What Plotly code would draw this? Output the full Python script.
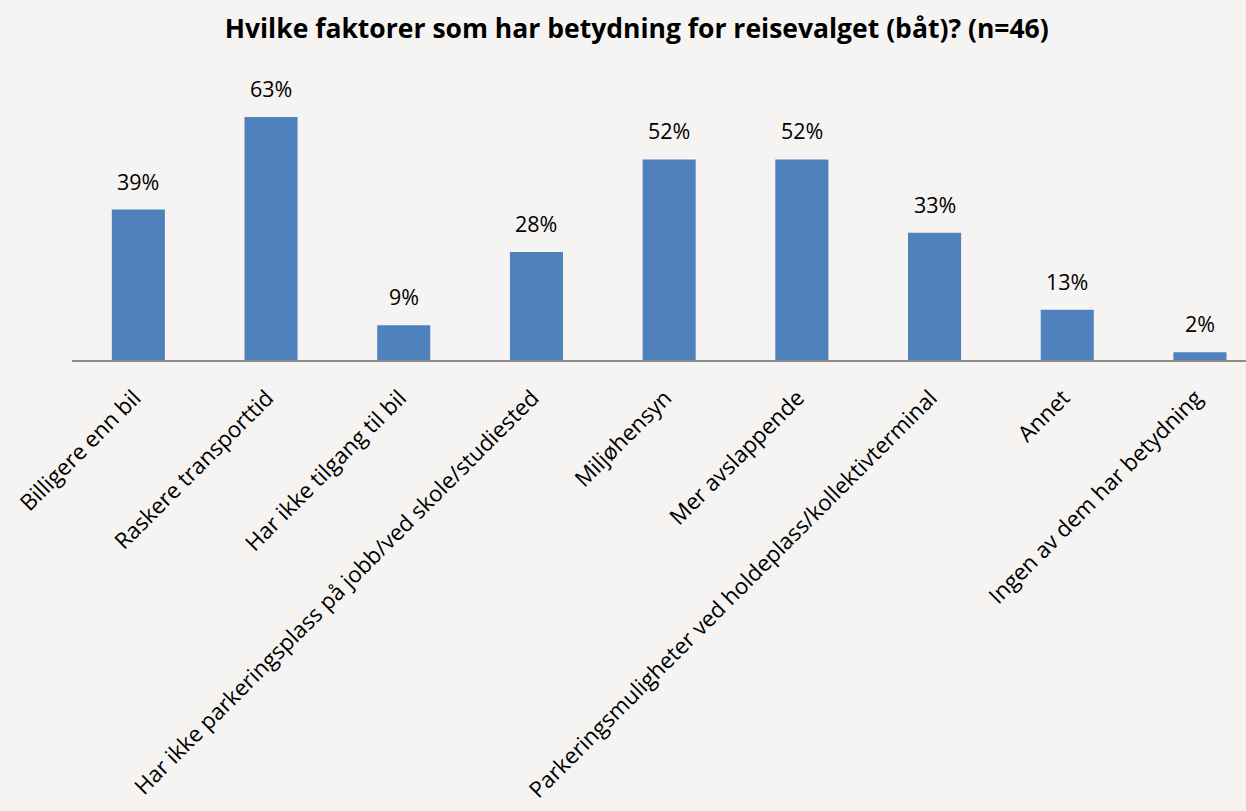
import plotly.graph_objects as go

categories = [
    "Billigere enn bil",
    "Raskere transporttid",
    "Har ikke tilgang til bil",
    "Har ikke parkeringsplass på jobb/ved skole/studiested",
    "Miljøhensyn",
    "Mer avslappende",
    "Parkeringsmuligheter ved holdeplass/kollektivterminal",
    "Annet",
    "Ingen av dem har betydning",
]
values = [39, 63, 9, 28, 52, 52, 33, 13, 2]
labels = [f"{v}%" for v in values]

FONT = "Open Sans, sans-serif"
BG = "#f5f4f2"

fig = go.Figure()
fig.add_trace(go.Bar(
    x=categories, y=values,
    marker=dict(color="#4f81bd", line=dict(width=0)),
    width=0.4,
    hoverinfo="skip",
))
for c, v, t in zip(categories, values, labels):
    fig.add_annotation(x=c, y=v, text=t, showarrow=False, yanchor="bottom",
                       yshift=12, font=dict(family=FONT, size=21.5, color="#000"))

fig.update_layout(
    width=1246, height=811,
    paper_bgcolor=BG, plot_bgcolor=BG,
    margin=dict(l=72, r=0, t=60, b=451),
    title=dict(text="<b>Hvilke faktorer som har betydning for reisevalget (båt)? (n=46)</b>",
               x=0.511, xanchor="center", y=0.965, yanchor="middle",
               font=dict(family=FONT, size=26.5, color="#000")),
    showlegend=False,
    xaxis=dict(tickangle=-45, tickfont=dict(family=FONT, size=22.3, color="#000"),
               ticklabelstandoff=14, ticklabelshift=-4,
               range=[-0.5, 8.347], showline=True, linecolor="#8c8c8c", linewidth=2,
               ticks="", showgrid=False, fixedrange=True, automargin=False),
    yaxis=dict(range=[0, 77.8], visible=False, showgrid=False, zeroline=False, fixedrange=True),
)
fig.write_html("out.html", config={"displayModeBar": False},
               post_script="document.body.style.margin='0';document.body.style.background='%s';" % BG)
